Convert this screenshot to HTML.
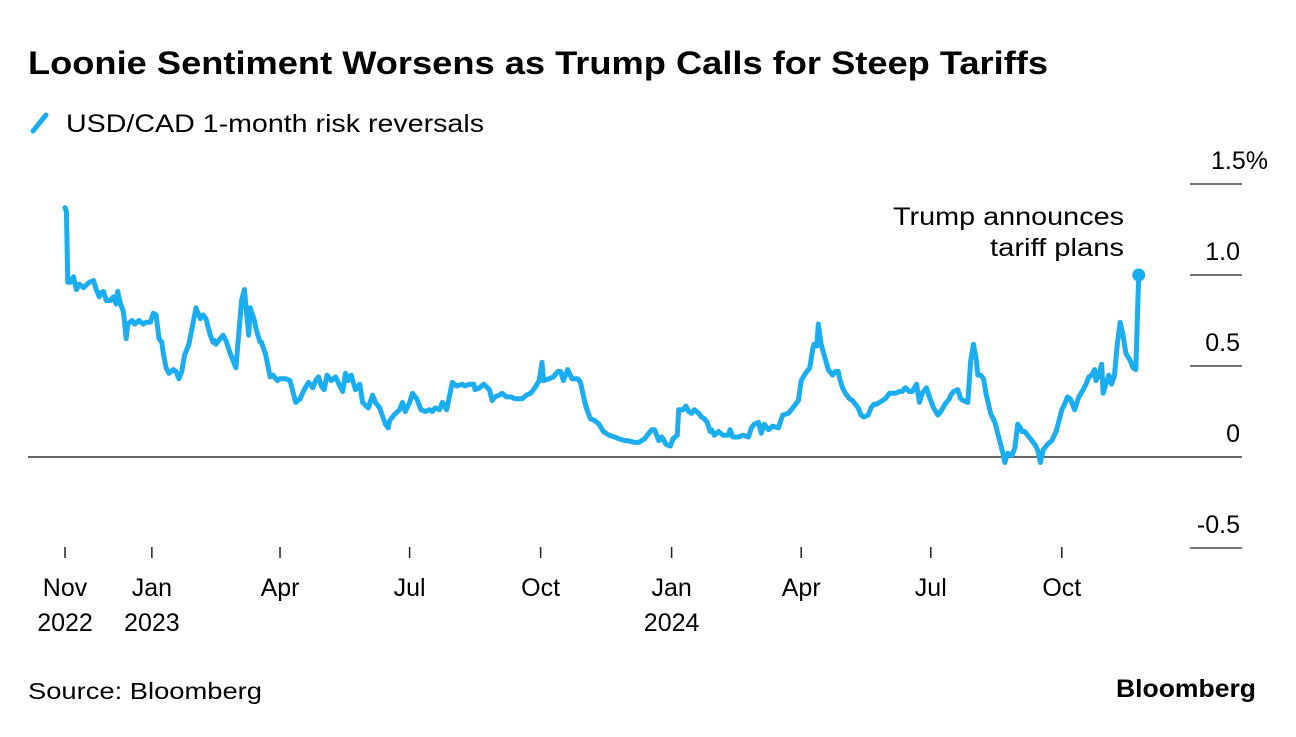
<!DOCTYPE html>
<html><head><meta charset="utf-8"><style>
body{margin:0;background:#fff;width:1296px;height:732px;overflow:hidden;font-family:"Liberation Sans",Arial,sans-serif}
</style></head><body>
<svg id="chart" width="1296" height="732" xmlns="http://www.w3.org/2000/svg" font-family="Liberation Sans, Arial, sans-serif">
<text x="28" y="74" font-size="32" font-weight="bold" fill="#000" textLength="1020" lengthAdjust="spacingAndGlyphs">Loonie Sentiment Worsens as Trump Calls for Steep Tariffs</text>
<line x1="33" y1="131" x2="46" y2="115" stroke="#1AADF2" stroke-width="5" stroke-linecap="round"/>
<text x="66" y="132" font-size="25" fill="#000" textLength="418" lengthAdjust="spacingAndGlyphs">USD/CAD 1-month risk reversals</text>
<g id="grid"></g>
<g id="xaxis"></g>
<path id="series" fill="none" stroke="#1AADF2" stroke-width="5" stroke-linejoin="round" stroke-linecap="round"/>
<circle id="lastdot" r="6.5" fill="#1AADF2"/>
<text x="1124" y="225" font-size="25" text-anchor="end" fill="#000" textLength="231" lengthAdjust="spacingAndGlyphs">Trump announces</text>
<text x="1124" y="256" font-size="25" text-anchor="end" fill="#000" textLength="134" lengthAdjust="spacingAndGlyphs">tariff plans</text>
<text x="28" y="699" font-size="23" fill="#000" textLength="234" lengthAdjust="spacingAndGlyphs">Source: Bloomberg</text>
<text x="1116" y="697" font-size="25" font-weight="bold" fill="#000" textLength="140" lengthAdjust="spacingAndGlyphs">Bloomberg</text>
</svg>
<script>
const days=[0,1,2,4,6,8,10,13,17,20,22,24,25,27,29,32,34,36,37,39,41,43,44,47,49,52,55,57,60,62,64,66,68,69,71,73,76,78,80,82,84,87,90,92,95,97,99,102,104,105,106,109,111,113,116,120,124,126,129,130,133,134,137,138,141,144,146,149,151,155,158,162,165,168,171,174,176,178,180,182,184,187,190,193,195,197,199,201,204,207,209,213,216,218,221,225,227,228,231,235,237,239,242,244,247,250,253,256,258,260,263,265,268,272,275,279,281,284,287,288,291,294,298,300,302,305,307,310,313,316,319,321,324,327,330,333,335,336,340,343,346,348,350,353,356,360,362,365,367,369,372,375,378,382,386,389,393,395,400,403,407,410,412,414,417,419,420,422,425,427,430,431,434,436,438,440,442,445,447,449,451,453,454,456,459,462,466,467,469,473,476,480,482,484,487,489,491,494,497,501,504,508,511,515,517,520,523,524,525,526,528,529,531,532,536,539,541,543,544,546,548,551,553,555,557,559,561,564,566,568,570,572,574,576,579,581,583,586,588,590,593,595,598,600,602,605,607,610,613,615,618,621,622,624,627,629,631,634,636,638,640,641,643,645,647,650,653,655,657,659,660,662,665,667,669,671,672,674,676,679,681,683,685,687,690,693,696,698,700,702,704,706,709,711,712,715,717,719,721,723,724,726,728,729,731,733,735,737,739,741,743,745,748,750,752,754];
const values=[1.37,1.35,0.96,0.96,0.99,0.92,0.95,0.93,0.96,0.97,0.92,0.88,0.90,0.91,0.86,0.86,0.88,0.84,0.91,0.84,0.80,0.65,0.73,0.75,0.73,0.75,0.73,0.74,0.74,0.79,0.78,0.65,0.63,0.57,0.49,0.46,0.48,0.47,0.43,0.47,0.56,0.62,0.74,0.82,0.76,0.78,0.76,0.67,0.63,0.64,0.62,0.65,0.67,0.64,0.57,0.49,0.86,0.92,0.67,0.82,0.75,0.71,0.63,0.63,0.56,0.44,0.45,0.42,0.43,0.43,0.42,0.30,0.32,0.37,0.41,0.38,0.42,0.44,0.39,0.37,0.45,0.42,0.44,0.39,0.36,0.46,0.42,0.45,0.37,0.40,0.30,0.27,0.34,0.30,0.27,0.18,0.16,0.20,0.23,0.26,0.30,0.25,0.30,0.35,0.32,0.26,0.25,0.26,0.25,0.27,0.26,0.30,0.26,0.41,0.39,0.40,0.39,0.40,0.40,0.37,0.38,0.40,0.37,0.31,0.33,0.34,0.35,0.33,0.33,0.32,0.32,0.32,0.34,0.35,0.38,0.42,0.52,0.42,0.43,0.44,0.47,0.47,0.42,0.48,0.43,0.43,0.41,0.30,0.25,0.21,0.20,0.18,0.14,0.12,0.11,0.10,0.09,0.09,0.08,0.08,0.10,0.13,0.15,0.15,0.09,0.11,0.10,0.07,0.06,0.10,0.12,0.26,0.26,0.28,0.25,0.24,0.26,0.24,0.22,0.21,0.19,0.14,0.15,0.12,0.14,0.12,0.12,0.15,0.11,0.11,0.12,0.11,0.16,0.18,0.19,0.13,0.18,0.15,0.17,0.16,0.23,0.24,0.27,0.31,0.42,0.46,0.49,0.54,0.59,0.62,0.61,0.73,0.62,0.59,0.48,0.45,0.47,0.47,0.43,0.38,0.35,0.32,0.31,0.29,0.27,0.23,0.22,0.23,0.27,0.29,0.29,0.30,0.31,0.32,0.35,0.35,0.35,0.36,0.36,0.38,0.36,0.36,0.40,0.30,0.35,0.38,0.33,0.27,0.23,0.25,0.29,0.32,0.34,0.36,0.37,0.32,0.31,0.30,0.53,0.62,0.53,0.45,0.45,0.43,0.34,0.24,0.19,0.13,0.07,0.01,-0.03,0.02,0.01,0.05,0.18,0.16,0.14,0.14,0.12,0.09,0.07,0.04,-0.03,0.04,0.07,0.09,0.14,0.20,0.26,0.29,0.33,0.32,0.26,0.31,0.33,0.37,0.40,0.44,0.45,0.48,0.42,0.45,0.51,0.35,0.40,0.45,0.40,0.45,0.62,0.74,0.67,0.57,0.53,0.49,0.48,1.00];
const yTicks=[1.5,1.0,0.5,0,-0.5];
const yTickLabels=["1.5%","1.0","0.5","0","-0.5"];
const xTickDays=[0,61,151,242,334,426,517,608,700];
const xTickLabels=[["Nov","2022"],["Jan","2023"],["Apr",""],["Jul",""],["Oct",""],["Jan","2024"],["Apr",""],["Jul",""],["Oct",""]];

const NS="http://www.w3.org/2000/svg";
const xS=d=>65+d*1.424;
const yS=v=>457-v*182;
const grid=document.getElementById('grid');
yTicks.forEach((t,i)=>{
  const y=yS(t);
  const l=document.createElementNS(NS,'line');
  
  
  if(t===0){l.setAttribute('x1',28);l.setAttribute('x2',1242);l.setAttribute('stroke','#333');l.setAttribute('stroke-width',1.5);}
  else{l.setAttribute('x1',1190);l.setAttribute('x2',1242);l.setAttribute('stroke','#222');l.setAttribute('stroke-width',1.3);}
  l.setAttribute('y1',y);l.setAttribute('y2',y);
  grid.appendChild(l);
  const tx=document.createElementNS(NS,'text');
  
  
  tx.setAttribute('x',i===0?1268:1240);tx.setAttribute('y',y-15);
  tx.setAttribute('font-size','25');tx.setAttribute('text-anchor','end');tx.setAttribute('fill','#000');
  tx.textContent=yTickLabels[i];
  grid.appendChild(tx);
});
const xa=document.getElementById('xaxis');
xTickDays.forEach((d,i)=>{
  const x=xS(d);
  const l=document.createElementNS(NS,'line');
  
  
  l.setAttribute('x1',x);l.setAttribute('x2',x);l.setAttribute('y1',547);l.setAttribute('y2',558);
  l.setAttribute('stroke','#222');l.setAttribute('stroke-width',1.5);
  xa.appendChild(l);
  xTickLabels[i].forEach((s,j)=>{
    if(!s)return;
    const tx=document.createElementNS(NS,'text');
    
    
    tx.setAttribute('x',x);tx.setAttribute('y',596+j*35);
    tx.setAttribute('font-size','25');tx.setAttribute('text-anchor','middle');tx.setAttribute('fill','#000');
    tx.textContent=s;
    xa.appendChild(tx);
  });
});
let dstr='';
days.forEach((d,i)=>{dstr+=(i?'L':'M')+xS(d).toFixed(1)+','+yS(values[i]).toFixed(1);});
document.getElementById('series').setAttribute('d',dstr);
const last=days.length-1;
const dot=document.getElementById('lastdot');
dot.setAttribute('cx',xS(days[last]));dot.setAttribute('cy',yS(values[last]));
</script>
</body></html>
